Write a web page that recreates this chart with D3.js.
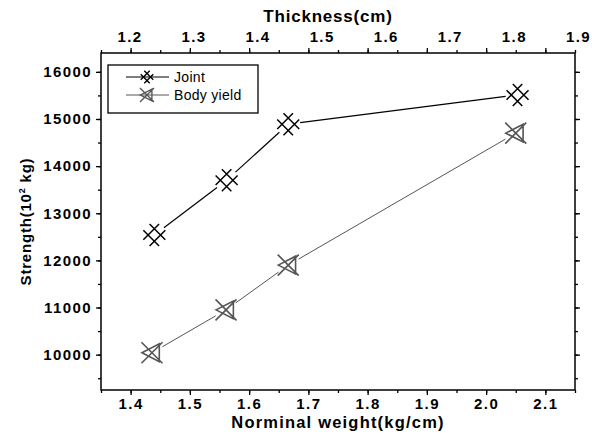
<!DOCTYPE html>
<html>
<head>
<meta charset="utf-8">
<script src="https://cdn.jsdelivr.net/npm/d3@7"></script>
<style>
  body { margin: 0; background: #fff; }
  svg { display: block; font-family: Arial, 'Liberation Sans', sans-serif; }
  .tick text { font-family: Arial, 'Liberation Sans', sans-serif; font-size: 15px; font-weight: bold; letter-spacing: 1.4px; fill: #000; }
</style>
</head>
<body>
<div id="chart"></div>
<script>
// values
const seriesNames = ['Joint', 'Body yield']
const jointWeight = [1.44, 1.562, 1.666, 2.053]
const jointStrength = [12540, 13700, 14890, 15510]
const yieldWeight = [1.436, 1.561, 1.666, 2.05]
const yieldStrength = [10040, 10950, 11900, 14700]
const weightTicks = [1.4, 1.5, 1.6, 1.7, 1.8, 1.9, 2.0, 2.1]
const thicknessTicks = [1.2, 1.3, 1.4, 1.5, 1.6, 1.7, 1.8, 1.9]
const strengthTicks = [10000, 11000, 12000, 13000, 14000, 15000, 16000]

const width = 592
const height = 440
const margin = { top: 53, right: 17, bottom: 50, left: 101 }

const svg = d3.select('#chart').append('svg')
    .attr('width', width)
    .attr('height', height)

const x = d3.scaleLinear()
    .domain([1.35, 2.15])
    .range([margin.left, width - margin.right])
const y = d3.scaleLinear()
    .domain([9250, 16400])
    .range([height - margin.bottom, margin.top])
// top axis labels sit on their own (thickness) scale
const t = d3.scaleLinear()
    .domain([1.2, 1.9])
    .range([x(1.398), x(2.155)])

const minorX = d3.range(1.35, 2.16, 0.05).map(d => +d.toFixed(2))
const minorY = d3.range(9500, 16400, 500)

const tickStyle = sel => {
    sel.attr('font-size', null).attr('font-family', null)
    sel.select('.domain').remove()
    sel.selectAll('line').attr('stroke', '#000').attr('stroke-width', 1.3)
}

// minor + major ticks on all four sides
const bottom = height - margin.bottom
const right = width - margin.right
svg.append('g').attr('transform', `translate(0,${bottom})`)
    .call(d3.axisBottom(x).tickValues(minorX).tickSize(3).tickFormat(''))
    .call(tickStyle)
svg.append('g').attr('transform', `translate(0,${bottom})`)
    .call(d3.axisBottom(x).tickValues(weightTicks).tickSize(5).tickPadding(3)
        .tickFormat(d3.format('.1f')))
    .call(tickStyle)

svg.append('g').attr('transform', `translate(0,${margin.top})`)
    .call(d3.axisTop(x).tickValues(minorX).tickSize(3).tickFormat(''))
    .call(tickStyle)
svg.append('g').attr('transform', `translate(0,${margin.top})`)
    .call(d3.axisTop(x).tickValues(weightTicks).tickSize(5).tickFormat(''))
    .call(tickStyle)
svg.append('g').attr('transform', `translate(0,${margin.top})`)
    .call(d3.axisTop(t).tickValues(thicknessTicks).tickSize(0).tickPadding(11)
        .tickFormat(d3.format('.1f')))
    .call(tickStyle)

svg.append('g').attr('transform', `translate(${margin.left},0)`)
    .call(d3.axisLeft(y).tickValues(minorY).tickSize(3).tickFormat(''))
    .call(tickStyle)
svg.append('g').attr('transform', `translate(${margin.left},0)`)
    .call(d3.axisLeft(y).tickValues(strengthTicks).tickSize(5).tickPadding(4)
        .tickFormat(d3.format('d')))
    .call(tickStyle)

svg.append('g').attr('transform', `translate(${right},0)`)
    .call(d3.axisRight(y).tickValues(minorY).tickSize(3).tickFormat(''))
    .call(tickStyle)
svg.append('g').attr('transform', `translate(${right},0)`)
    .call(d3.axisRight(y).tickValues(strengthTicks).tickSize(5).tickFormat(''))
    .call(tickStyle)

// frame
svg.append('rect')
    .attr('x', margin.left)
    .attr('y', margin.top)
    .attr('width', right - margin.left)
    .attr('height', bottom - margin.top)
    .attr('fill', 'none')
    .attr('stroke', '#000')
    .attr('stroke-width', 1.5)

// axis titles
svg.append('text')
    .attr('x', 328).attr('y', 22)
    .attr('text-anchor', 'middle')
    .style('font-size', '17px').style('font-weight', 'bold')
    .style('letter-spacing', '0.8px')
    .text('Thickness(cm)')
svg.append('text')
    .attr('x', (margin.left + right) / 2).attr('y', 428)
    .attr('text-anchor', 'middle')
    .style('font-size', '16.5px').style('font-weight', 'bold')
    .style('letter-spacing', '1.2px')
    .text('Norminal weight(kg/cm)')
const yTitle = svg.append('text')
    .attr('transform', `translate(31,${(margin.top + bottom) / 2}) rotate(-90)`)
    .attr('text-anchor', 'middle')
    .style('font-size', '15px').style('font-weight', 'bold')
    .style('letter-spacing', '0.8px')
yTitle.append('tspan').text('Strength(10')
yTitle.append('tspan').attr('dy', -6).style('font-size', '9px').text('2')
yTitle.append('tspan').attr('dy', 6).text(' kg)')

// marker shapes, drawn around (0,0)
function joint(r) {
    // a '#' turned by 45 degrees
    const a = r * 0.42
    const L = r * 1.06
    const segs = []
    ;[-a, a].forEach(c => {
        segs.push([[c, -L], [c, L]])
        segs.push([[-L, c], [L, c]])
    })
    const rot = ([px, py]) => [(px - py) / Math.SQRT2, (px + py) / Math.SQRT2]
    return segs.map(([p, q]) => {
        const [x0, y0] = rot(p), [x1, y1] = rot(q)
        return `M${x0},${y0}L${x1},${y1}`
    }).join('')
}

function bodyYield(r) {
    const a = r * 0.7
    return `M${-r},${-r}L${r},${r}M${-r},${r}L${r},${-r}` +
        `M${-r * 0.95},0L${a},${-r * 0.85}L${a},${r * 0.85}Z`
}

const series = [
    { name: seriesNames[0], xs: jointWeight, ys: jointStrength, color: '#000', lw: 1.2, shape: joint, sw: 1.5 },
    { name: seriesNames[1], xs: yieldWeight, ys: yieldStrength, color: '#555', lw: 1, shape: bodyYield, sw: 1.6 },
]

const gap = 12
series.forEach(s => {
    const pts = s.xs.map((d, i) => [x(d), y(s.ys[i])])
    const g = svg.append('g')
    // connecting lines stop short of the markers
    d3.pairs(pts).forEach(([a, b]) => {
        const dx = b[0] - a[0], dy = b[1] - a[1]
        const len = Math.hypot(dx, dy)
        const ux = dx / len, uy = dy / len
        g.append('line')
            .attr('x1', a[0] + ux * gap).attr('y1', a[1] + uy * gap)
            .attr('x2', b[0] - ux * gap).attr('y2', b[1] - uy * gap)
            .attr('stroke', s.color)
            .attr('stroke-width', s.lw)
    })
    g.selectAll('path')
        .data(pts)
        .enter().append('path')
            .attr('transform', d => `translate(${d[0]},${d[1]})`)
            .attr('d', s.shape(10.5))
            .attr('fill', 'none')
            .attr('stroke', s.color)
            .attr('stroke-width', s.sw)
})

// legend
const legend = svg.append('g').attr('transform', 'translate(108,65)')
legend.append('rect')
    .attr('width', 150).attr('height', 48)
    .attr('fill', '#fff')
    .attr('stroke', '#000')
    .attr('stroke-width', 1.3)
series.forEach((s, i) => {
    const ly = 12 + i * 18
    legend.append('line')
        .attr('x1', 18).attr('x2', 61)
        .attr('y1', ly).attr('y2', ly)
        .attr('stroke', s.color)
        .attr('stroke-width', s.lw)
    legend.append('path')
        .attr('transform', `translate(39,${ly})`)
        .attr('d', s.shape(i === 0 ? 6 : 7))
        .attr('fill', 'none')
        .attr('stroke', s.color)
        .attr('stroke-width', 1.4)
    legend.append('text')
        .attr('x', 66).attr('y', ly + 5)
        .style('font-size', '14px')
        .style('letter-spacing', '0.3px')
        .text(s.name)
})
</script>
</body>
</html>
